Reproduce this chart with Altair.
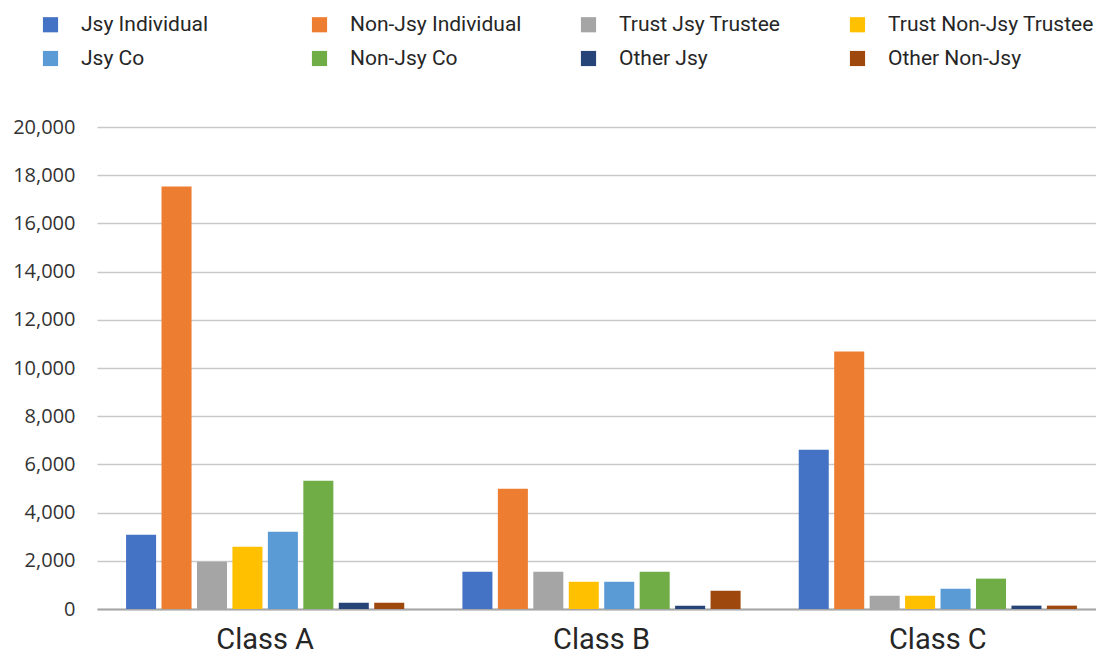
import altair as alt
import pandas as pd

classes = ["Class A", "Class B", "Class C"]
series = ["Jsy Individual", "Non-Jsy Individual", "Trust Jsy Trustee", "Trust Non-Jsy Trustee",
          "Jsy Co", "Non-Jsy Co", "Other Jsy", "Other Non-Jsy"]
colors = ["#4472C4", "#ED7D31", "#A5A5A5", "#FFC000", "#5B9BD5", "#70AD47", "#264478", "#9E480E"]

class_a = [3080, 17530, 1960, 2580, 3210, 5320, 260, 260]
class_b = [1550, 4990, 1550, 1130, 1130, 1550, 140, 760]
class_c = [6610, 10680, 550, 550, 840, 1260, 140, 140]

rows = []
for cls, vals in zip(classes, [class_a, class_b, class_c]):
    for s, v in zip(series, vals):
        rows.append({"cls": cls, "series": s, "value": v})
df = pd.DataFrame(rows)

cond_font = "Roboto"

chart = alt.Chart(df).mark_bar().encode(
    x=alt.X("cls:N", sort=classes, title=None,
            scale=alt.Scale(paddingInner=0, paddingOuter=0, range=[0, 1009]),
            axis=alt.Axis(labelAngle=0, labelFont=cond_font, labelFontSize=29,
                          labelColor="#262626", labelPadding=16, ticks=False,
                          domainColor="#a6a6a6", domainWidth=2, grid=False)),
    xOffset=alt.XOffset("series:N", sort=series,
                        scale=alt.Scale(paddingInner=0.153, paddingOuter=0.82)),
    y=alt.Y("value:Q", title=None,
            scale=alt.Scale(domain=[0, 20000], nice=False),
            axis=alt.Axis(values=list(range(0, 20001, 2000)), format=",d",
                          labelFont="Open Sans", labelFontSize=20, labelColor="#333333",
                          labelPadding=22, ticks=False, domain=False,
                          gridColor="#c9c9c9", gridWidth=1.5)),
    color=alt.Color("series:N", sort=series,
                    scale=alt.Scale(domain=series, range=colors),
                    legend=alt.Legend(title=None, orient="none", legendX=-57, legendY=-113,
                                      direction="horizontal", columns=4, gridAlign="all",
                                      symbolType="square", symbolSize=230, symbolStrokeWidth=0,
                                      labelFont=cond_font, labelFontSize=21, labelColor="#262626",
                                      labelOffset=20, labelLimit=400, columnPadding=22,
                                      rowPadding=12)),
).properties(
    width=999,
    height=482,
    autosize=alt.AutoSizeParams(type="none"),
    padding={"left": 89, "top": 119, "right": 0, "bottom": 48},
).configure_view(stroke=None)

chart.save("out.html", embed_options={"renderer": "svg", "actions": False})
